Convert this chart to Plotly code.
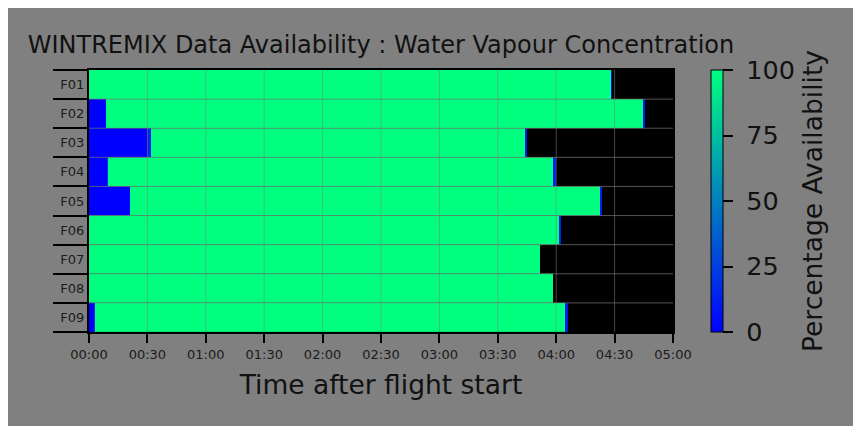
import plotly.graph_objects as go

# ---------------- data ----------------
flights = ["F01", "F02", "F03", "F04", "F05", "F06", "F07", "F08", "F09"]

# segment edges (minutes after flight start) and percentage availability per segment
seg_edges = [
    [0, 267.9, 268.8],                 # F01
    [0, 8.6, 284.4, 285.4],            # F02
    [0, 30.0, 32.0, 223.8, 224.8],     # F03
    [0, 9.1, 9.8, 238.5, 239.7],       # F04
    [0, 21.3, 262.3, 263.3],           # F05
    [0, 241.2, 242.6],                 # F06
    [0, 231.6],                        # F07
    [0, 238.5],                        # F08
    [0, 2.4, 3.3, 244.7, 245.9],       # F09
]
seg_values = [
    [100, 10],
    [0, 100, 10],
    [0, 15, 100, 10],
    [0, 20, 100, 10],
    [0, 100, 10],
    [100, 15],
    [100],
    [100],
    [0, 20, 100, 10],
]

x_tick_vals = [0, 30, 60, 90, 120, 150, 180, 210, 240, 270, 300]
x_tick_text = ["00:00", "00:30", "01:00", "01:30", "02:00", "02:30",
               "03:00", "03:30", "04:00", "04:30", "05:00"]
cbar_ticks = [0, 25, 50, 75, 100]

winter = [[0.0, "rgb(0,0,255)"], [1.0, "rgb(0,255,127)"]]
FONT = "DejaVu Sans"
TXT = "#111111"

# ---------------- figure ----------------
fig = go.Figure()
n = len(flights)
for i, name in enumerate(flights):
    fig.add_trace(go.Heatmap(
        x=seg_edges[i],
        y=[i - 0.5, i + 0.5],
        z=[seg_values[i]],
        coloraxis="coloraxis",
        name=name,
        hoverinfo="skip",
    ))

row_bounds = [b - 0.5 for b in range(n + 1)]

grid_shapes = []
for xv in x_tick_vals[1:-1]:
    grid_shapes.append(dict(type="line", xref="x", yref="y domain", x0=xv, x1=xv,
                            y0=0, y1=1, layer="above",
                            line=dict(color="rgba(128,128,128,0.55)", width=1)))
for yb in row_bounds[1:-1]:
    grid_shapes.append(dict(type="line", xref="x domain", yref="y", x0=0, x1=1,
                            y0=yb, y1=yb, layer="above",
                            line=dict(color="rgba(128,128,128,0.65)", width=1)))

fig.update_layout(
    width=853, height=418,
    margin=dict(l=81, r=188, t=62, b=94),
    paper_bgcolor="rgb(128,128,128)",
    plot_bgcolor="black",
    font=dict(family=FONT, color=TXT),
    title=dict(text="WINTREMIX Data Availability : Water Vapour Concentration",
               x=0.5, xref="paper", xanchor="center",
               y=1 - 37 / 418, yref="container", yanchor="middle",
               font=dict(size=24, color=TXT)),
    coloraxis=dict(
        cmin=0, cmax=100, colorscale=winter,
        colorbar=dict(
            x=1.065, xanchor="left", xref="paper", xpad=0,
            y=0.5, yanchor="middle", len=1, lenmode="fraction", ypad=0,
            thickness=12, outlinecolor="black", outlinewidth=1,
            tickmode="array", tickvals=cbar_ticks,
            ticktext=["\u00a0" + str(t) for t in cbar_ticks],
            ticks="outside", ticklen=10, tickwidth=2, tickcolor="black",
            tickfont=dict(size=25.5, color=TXT),
            title=dict(text="Percentage Availability", side="right",
                       font=dict(size=26.5, color=TXT)),
        ),
    ),
    xaxis=dict(
        range=[0, 300], tickvals=x_tick_vals, ticktext=x_tick_text,
        ticks="outside", ticklen=9, tickwidth=2, tickcolor="black",
        tickfont=dict(size=13, color="#1a1a1a"),
        showgrid=False, zeroline=False,
        showline=True, linecolor="black", linewidth=2, mirror=True,
        title=dict(text="Time after flight start", font=dict(size=26.5, color=TXT),
                   standoff=15),
    ),
    yaxis=dict(
        range=[n - 0.5, -0.5], tickvals=list(range(n)), ticktext=flights,
        ticks="", tickfont=dict(size=13, color="#1a1a1a"),
        showgrid=False, zeroline=False,
        showline=True, linecolor="black", linewidth=2, mirror=True,
        minor=dict(tickmode="array", tickvals=row_bounds, ticks="outside",
                   ticklen=34, tickwidth=2, tickcolor="black", showgrid=False),
    ),
    shapes=grid_shapes,
)

fig.write_html("out.html")
